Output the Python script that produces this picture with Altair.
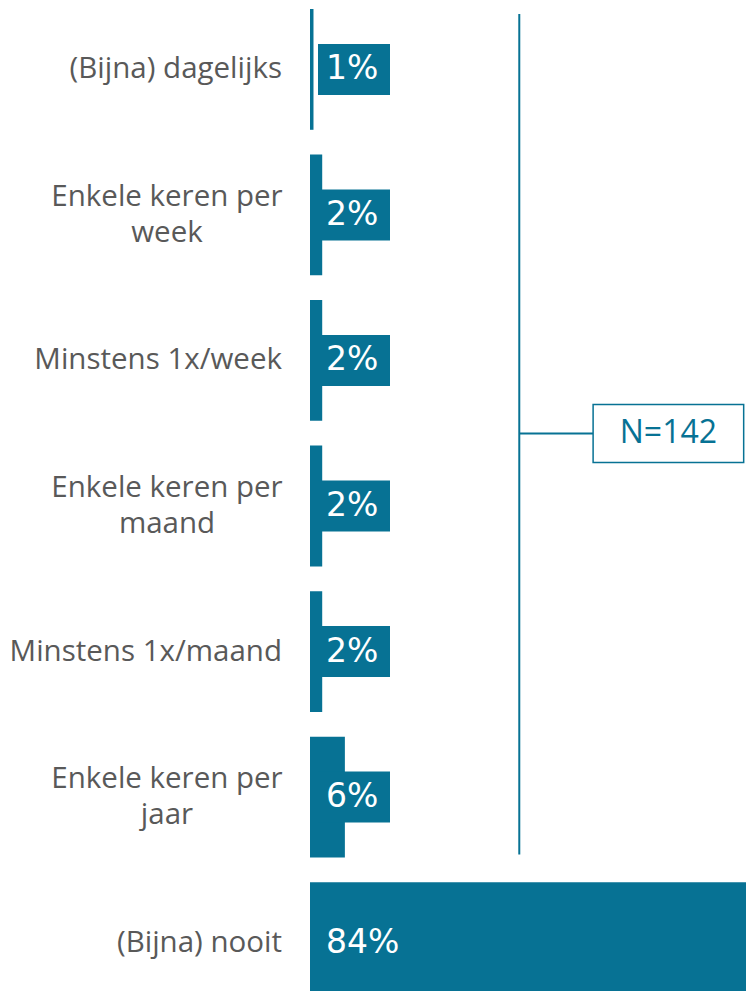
import altair as alt
import pandas as pd

# ---- data ----
categories = ["(Bijna) dagelijks", "Enkele keren per week", "Minstens 1x/week",
              "Enkele keren per maand", "Minstens 1x/maand", "Enkele keren per jaar",
              "(Bijna) nooit"]
bar_values = [0.6, 2.1, 2.1, 2.1, 2.1, 6.0, 84.0]
label_values = [1, 2, 2, 2, 2, 6, 84]

# annotation (bracket + sample size box), in % units of the x axis
bracket_x = 36.0
box_start = 48.7
box_end = 74.6
sample_label = "N=142"
anchor_category = "Minstens 1x/week"
bracket_top = categories[0]
bracket_bottom = categories[5]

TEAL = "#077294"
GREY = "#595959"
FONT = "Open Sans"
NUM_FONT = "DejaVu Sans"

df = pd.DataFrame({"cat": categories, "value": bar_values, "pct": label_values})
df["label"] = df["pct"].astype(str) + "%"

ann = pd.DataFrame({
    "cat": [anchor_category],
    "top": [bracket_top],
    "bottom": [bracket_bottom],
    "x": [bracket_x],
    "x2": [box_start],
    "xe": [box_end],
    "xc": [(box_start + box_end) / 2],
    "txt": [sample_label],
})

yscale = alt.Scale(domain=categories, range=[1, 995], paddingInner=0.17, paddingOuter=0)
xscale = alt.Scale(domain=[0, 75], nice=False, zero=True)

Y = alt.Y("cat:N", scale=yscale, axis=None)

base = alt.Chart(df).transform_calculate(
    z="0",
    multi="indexof(datum.cat, ' per ') > 0",
    lines="indexof(datum.cat, ' per ') > 0 ? "
          "[substring(datum.cat, 0, indexof(datum.cat, ' per ') + 4), "
          "substring(datum.cat, indexof(datum.cat, ' per ') + 5)] : datum.cat",
)

bars = base.mark_bar(color=TEAL, clip=True).encode(
    x=alt.X("value:Q", scale=xscale, axis=None),
    y=Y,
)

label_boxes = base.mark_rect(color=TEAL, height=51, xOffset=8, x2Offset=80).encode(
    x=alt.X("z:Q", scale=xscale, axis=None),
    x2="z:Q",
    y=Y,
)

label_text = base.mark_text(align="left", baseline="middle", dx=16, font=NUM_FONT,
                            fontSize=33, color="white").encode(
    x=alt.X("z:Q", scale=xscale, axis=None),
    y=Y,
    text="label:N",
)

cat_single = base.transform_filter("!datum.multi").mark_text(
    align="right", baseline="middle", dx=-28, font=FONT, fontSize=29.5, color=GREY
).encode(
    x=alt.X("z:Q", scale=xscale, axis=None),
    y=Y,
    text="cat:N",
)

cat_multi = base.transform_filter("datum.multi").mark_text(
    align="center", baseline="middle", dx=-143, dy=-18, font=FONT, fontSize=29.5,
    color=GREY, lineHeight=36
).encode(
    x=alt.X("z:Q", scale=xscale, axis=None),
    y=Y,
    text="lines:N",
)

annb = alt.Chart(ann)

vrule = annb.mark_rule(color=TEAL, strokeWidth=2, yOffset=-55.5, y2Offset=57.5).encode(
    x=alt.X("x:Q", scale=xscale, axis=None),
    y=alt.Y("top:N", scale=yscale, axis=None),
    y2="bottom:N",
)

hrule = annb.mark_rule(color=TEAL, strokeWidth=2, yOffset=73).encode(
    x=alt.X("x:Q", scale=xscale, axis=None),
    x2="x2:Q",
    y=alt.Y("cat:N", scale=yscale, axis=None),
)

box = annb.mark_rect(fill="white", stroke=TEAL, strokeWidth=1.5, height=58, yOffset=73).encode(
    x=alt.X("x2:Q", scale=xscale, axis=None),
    x2="xe:Q",
    y=alt.Y("cat:N", scale=yscale, axis=None),
)

ntext = annb.mark_text(align="center", baseline="middle", font=FONT, fontSize=32,
                       color=TEAL, yOffset=73).encode(
    x=alt.X("xc:Q", scale=xscale, axis=None),
    y=alt.Y("cat:N", scale=yscale, axis=None),
    text="txt:N",
)

chart = alt.layer(bars, label_boxes, label_text, cat_single, cat_multi,
                  vrule, hrule, box, ntext).properties(
    width=436,
    height=983,
    autosize=alt.AutoSizeParams(type="none"),
    padding={"left": 302, "top": 0, "right": 0, "bottom": 0},
    background="white",
).configure_view(stroke=None)

chart.save("out.html", embed_options={"renderer": "svg", "actions": False})
